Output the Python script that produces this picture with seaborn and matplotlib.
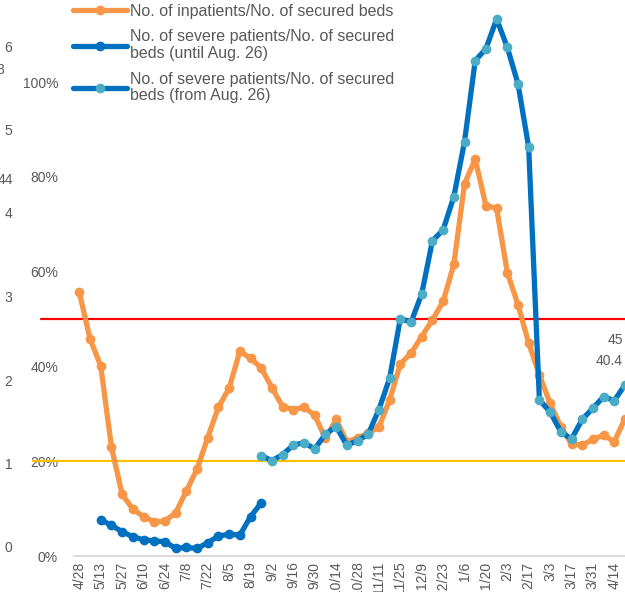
import matplotlib
matplotlib.use("Agg")

import matplotlib.pyplot as plt
import matplotlib.transforms as mtransforms
import seaborn as sns


# two-weekly tick labels (weekly data, every other week labelled)
week_labels = [
    "4/28", "5/13", "5/27", "6/10", "6/24", "7/8", "7/22", "8/5", "8/19",
    "9/2", "9/16", "9/30", "10/14", "10/28", "11/11", "11/25", "12/9",
    "12/23", "1/6", "1/20", "2/3", "2/17", "3/3", "3/17", "3/31", "4/14",
]

# No. of inpatients / No. of secured beds (%), weeks 0..51
inpatient_pct = [
    55.6, 45.8, 40.1, 23.0, 13.0, 9.9, 8.3, 7.2, 7.4, 9.1,
    13.7, 18.3, 25.0, 31.4, 35.4, 43.2, 41.7, 39.7, 35.5, 31.5,
    30.9, 31.4, 29.7, 24.8, 28.8, 24.1, 24.9, 25.9, 27.2, 32.9,
    40.5, 42.8, 46.3, 49.8, 53.7, 61.5, 78.5, 83.7, 73.9, 73.4,
    59.8, 53.0, 44.9, 38.2, 32.2, 27.3, 23.6, 23.4, 24.6, 25.5,
    24.1, 29.0,
]

# severe patients / secured beds (until Aug. 26), weeks 2..17
severe_old_start = 2
severe_old_pct = [
    7.6, 6.5, 5.1, 4.1, 3.4, 3.2, 3.0, 1.6, 1.8, 1.6,
    2.8, 4.2, 4.6, 4.4, 8.3, 11.2,
]

# severe patients / secured beds (from Aug. 26), weeks 17..51
severe_new_start = 17
severe_new_pct = [
    21.2, 20.1, 21.4, 23.4, 23.9, 22.6, 25.7, 27.3, 23.4, 24.3,
    25.7, 30.9, 37.5, 50.1, 49.3, 55.3, 66.5, 68.8, 75.8, 87.4,
    104.5, 107.0, 113.3, 107.3, 99.6, 86.2, 32.9, 30.4, 26.2, 24.7,
    28.8, 31.2, 33.6, 32.8, 36.1,
]

threshold_red = 50
threshold_yellow = 20

pct_ticks = [0, 20, 40, 60, 80, 100]
outer_ticks = [0, 1, 2, 3, 4, 5, 6]
edge_labels = ["3", "44"]
right_labels = ["45", "40.4"]

ORANGE = "#F79646"
BLUE = "#0070C0"
AQUA = "#4BACC6"
GREY_TEXT = "#595959"


def main():
    sns.set_style("white")
    plt.rcParams["font.family"] = ["Liberation Sans", "DejaVu Sans"]

    W, H = 625, 592
    fig = plt.figure(figsize=(W / 100, H / 100), dpi=100)
    left_px, bottom_px = 74, 556
    ax = fig.add_axes([left_px / W, (H - bottom_px) / H, (W - left_px) / W, bottom_px / H])

    line_kw = dict(linewidth=3.8, marker="o", markersize=7, markeredgewidth=0)

    sns.lineplot(
        x=list(range(len(inpatient_pct))), y=inpatient_pct, ax=ax,
        color=ORANGE, markerfacecolor=ORANGE,
        label="No. of inpatients/No. of secured beds", **line_kw,
    )
    sns.lineplot(
        x=list(range(severe_old_start, severe_old_start + len(severe_old_pct))),
        y=severe_old_pct, ax=ax, color=BLUE, markerfacecolor=BLUE,
        label="No. of severe patients/No. of secured\nbeds (until Aug. 26)", **line_kw,
    )
    sns.lineplot(
        x=list(range(severe_new_start, severe_new_start + len(severe_new_pct))),
        y=severe_new_pct, ax=ax, color=BLUE, markerfacecolor=AQUA,
        label="No. of severe patients/No. of secured\nbeds (from Aug. 26)", **line_kw,
    )

    # threshold lines run a little past the plot area on the left
    trans = mtransforms.blended_transform_factory(ax.transAxes, ax.transData)
    ax.plot([-0.060, 1.0], [threshold_red] * 2, color="#FF0000", lw=1.6,
            transform=trans, clip_on=False, zorder=1)
    ax.plot([-0.074, 1.0], [threshold_yellow] * 2, color="#FFC000", lw=1.6,
            transform=trans, clip_on=False, zorder=1)

    ax.set_xlim(-0.5, 51.0)
    ax.set_ylim(0, bottom_px / 4.74)
    ax.set_xticks(list(range(0, 2 * len(week_labels), 2)))
    ax.set_xticklabels(week_labels, rotation=90)
    ax.set_yticks(pct_ticks)
    ax.set_yticklabels([f"{v}%" for v in pct_ticks])
    ax.tick_params(axis="x", length=0, pad=4, labelsize=10, labelcolor=GREY_TEXT)
    ax.tick_params(axis="y", length=0, pad=11.5, labelsize=10, labelcolor=GREY_TEXT)
    ax.set_xlabel("")
    ax.set_ylabel("")
    for side in ["top", "left", "right"]:
        ax.spines[side].set_visible(False)
    ax.spines["bottom"].set_color("#D9D9D9")
    ax.spines["bottom"].set_linewidth(1.3)

    leg = ax.legend(
        loc="upper left", bbox_to_anchor=(73 / W, 1 - 4 / H), bbox_transform=fig.transFigure,
        frameon=False, fontsize=11.5, labelcolor=GREY_TEXT, borderpad=0,
        handlelength=3.4, handletextpad=0.15, labelspacing=0.65, borderaxespad=0,
    )
    for t in leg.get_texts():
        t.set_linespacing(1.15)

    # stray axis labels of a neighbouring chart on the far left
    ax2 = ax.twinx()
    ax2.set_ylim(-9 / 83.5, 547 / 83.5)
    ax2.set_yticks(outer_ticks)
    ax2.set_yticklabels([str(v) for v in outer_ticks])
    ax2.tick_params(axis="y", left=False, right=False, labelleft=True, labelright=False,
                    pad=41, labelsize=10, labelcolor=GREY_TEXT)
    for side in ax2.spines:
        ax2.spines[side].set_visible(False)
    ax2.grid(False)

    fig.text(4.5 / W, 1 - 70 / H, edge_labels[0], ha="right", va="center",
             fontsize=10, color=GREY_TEXT)
    fig.text(13 / W, 1 - 180 / H, edge_labels[1], ha="right", va="center",
             fontsize=10, color=GREY_TEXT)
    fig.text(623 / W, 1 - 340 / H, right_labels[0], ha="right", va="center",
             fontsize=10, color=GREY_TEXT)
    fig.text(623 / W, 1 - 361 / H, right_labels[1], ha="right", va="center",
             fontsize=10, color=GREY_TEXT)

    fig.savefig("out.png", dpi=100)
    plt.close(fig)


if __name__ == "__main__":
    main()
